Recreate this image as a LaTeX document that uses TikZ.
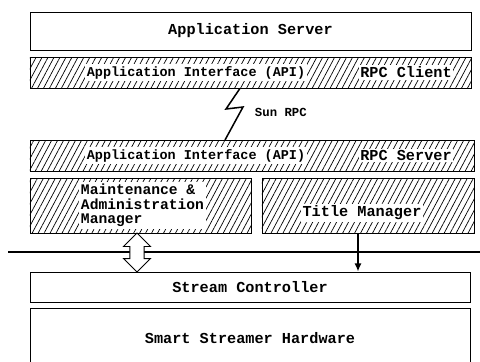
\documentclass[tikz,border=0pt]{standalone}
\usepackage{fontspec}
\setmonofont{Liberation Mono}
\usetikzlibrary{patterns.meta,shapes.arrows,arrows.meta}
\tikzset{
  plainbox/.style={draw,thick,rectangle,inner sep=0pt,
    font=\ttfamily\bfseries\fontsize{13}{15}\selectfont},
  hatchbox/.style={draw,thick,rectangle,inner sep=0pt,
    pattern={Lines[angle=62,distance=4.5pt,line width=0.6pt]}},
  lbl/.style={fill=white,inner sep=1.5pt,
    font=\ttfamily\bfseries\fontsize{13}{13}\selectfont},
  apilbl/.style={lbl,font=\ttfamily\bfseries\fontsize{11.5}{12}\selectfont},
  bolt/.style={line width=1.3pt},
  hollow/.style={double arrow,draw,thick,fill=white,rotate=90,
    inner xsep=0pt,inner ysep=0.2cm,
    minimum height=1.17cm,minimum width=0.78cm,double arrow head extend=0.19cm}
}
\begin{document}
\begin{tikzpicture}[x=0.03cm,y=-0.03cm]
\useasboundingbox (0,0) rectangle (480,361);
% top layers
\node[plainbox,minimum width=13.23cm,minimum height=1.14cm] (srv) at (250.5,31) {Application Server};
\node[hatchbox,minimum width=13.23cm,minimum height=0.93cm] (apic) at (250.5,72.5) {};
\node[apilbl] (apictxt) at (196,72.5) {Application Interface (API)};
\node[lbl] (clitxt) at (406,72.5) {RPC Client};
% sun rpc link
\draw[bolt] (apic.south -| 240,0) -- (226,109) -- (243,107) -- (225,140);
\node[lbl,fill=none,font=\ttfamily\bfseries\fontsize{10.5}{12}\selectfont,anchor=west] (rpc) at (253,112) {Sun RPC};
\node[hatchbox,minimum width=13.32cm,minimum height=0.93cm] (apis) at (252,155.5) {};
\node[apilbl] (apistxt) at (196,155.5) {Application Interface (API)};
\node[lbl] (srvtxt) at (406,155.5) {RPC Server};
% managers
\node[hatchbox,minimum width=6.63cm,minimum height=1.65cm] (mam) at (140.5,205.5) {};
\node[lbl,align=left,anchor=west,font=\ttfamily\bfseries\fontsize{12.5}{12.5}\selectfont] (mamtxt) at (79,205.5) {Maintenance \&\\Administration\\Manager};
\node[hatchbox,minimum width=6.36cm,minimum height=1.65cm] (tm) at (368,205.5) {};
\node[lbl] (tmtxt) at (362,213) {Title Manager};
% bus
\draw[line width=1.6pt] (8,252) -- (480,252);
\node[plainbox,minimum width=13.2cm,minimum height=0.9cm] (sc) at (250,287) {Stream Controller};
\node[hollow] (dbl) at (137,252.5) {};
\draw[line width=1.2pt,-{Latex[length=7pt,width=6pt]}] (tm.south -| 358,0) -- (sc.north -| 358,0);
% hardware, open at the bottom
\begin{scope}
\clip (0,0) rectangle (480,361);
\node[plainbox,minimum width=13.2cm,minimum height=2.6cm] (hw) at (250,352) {};
\node[lbl,fill=none] (hwtxt) at (250,338) {Smart Streamer Hardware};
\end{scope}
\end{tikzpicture}
\end{document}
